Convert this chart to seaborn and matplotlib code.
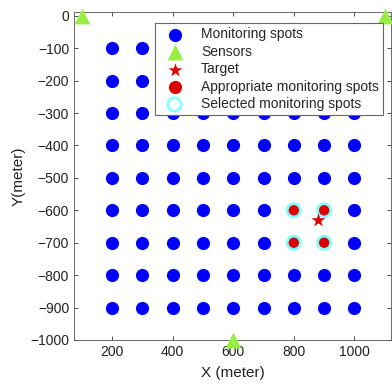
import numpy as np
import pandas as pd
import matplotlib
matplotlib.use("Agg")
import matplotlib.pyplot as plt
import seaborn as sns

# Candidate monitoring spots on a regular grid (meters)
grid_x = [200, 300, 400, 500, 600, 700, 800, 900, 1000]
grid_y = [-100, -200, -300, -400, -500, -600, -700, -800, -900]

# Sensor positions
sensor_x = [100, 1100, 600]
sensor_y = [0, 0, -1000]

# Target position
target_x = [880]
target_y = [-630]

# Spots close to the target that are suitable / selected
appropriate_x = [800, 900, 800, 900]
appropriate_y = [-600, -600, -700, -700]
selected_x = [800, 900, 800, 900]
selected_y = [-600, -600, -700, -700]

sns.set_style("ticks")
plt.rcParams["font.family"] = ["Liberation Sans", "DejaVu Sans"]
plt.rcParams["xtick.direction"] = "in"
plt.rcParams["ytick.direction"] = "in"

gx, gy = np.meshgrid(grid_x, grid_y)
spots = pd.DataFrame({"x": gx.ravel(), "y": gy.ravel()})
sensors = pd.DataFrame({"x": sensor_x, "y": sensor_y})
target = pd.DataFrame({"x": target_x, "y": target_y})
appropriate = pd.DataFrame({"x": appropriate_x, "y": appropriate_y})
selected = pd.DataFrame({"x": selected_x, "y": selected_y})

fig = plt.figure(figsize=(3.92, 3.85), dpi=100)
ax = fig.add_axes([0.189, 0.117, 0.808, 0.852])

sns.scatterplot(data=spots, x="x", y="y", ax=ax, color="#0000ff", s=90,
                marker="o", linewidth=0, label="Monitoring spots", zorder=3)
sns.scatterplot(data=sensors, x="x", y="y", ax=ax, color="#99ee44", s=130,
                marker="^", linewidth=0, label="Sensors", zorder=4, clip_on=False)
sns.scatterplot(data=target, x="x", y="y", ax=ax, color="#dd0000", s=110,
                marker="*", linewidth=0, label="Target", zorder=6)
sns.scatterplot(data=appropriate, x="x", y="y", ax=ax, color="#dd0000", s=90,
                marker="o", linewidth=0, label="Appropriate monitoring spots", zorder=5)
sns.scatterplot(data=selected, x="x", y="y", ax=ax, s=90, marker="o",
                facecolor="none", edgecolor="#80ffff", linewidth=2,
                label="Selected monitoring spots", zorder=5)

ax.set_xlim(75, 1120)
ax.set_ylim(-1000, 12)
ax.set_xticks([200, 400, 600, 800, 1000])
ax.set_yticks(list(range(-1000, 1, 100)))
ax.tick_params(top=True, right=True, labelsize=10, length=3, width=0.6,
               colors="#333333", labelcolor="#222222")
for sp in ax.spines.values():
    sp.set_visible(True)
    sp.set_color("#555555")
    sp.set_linewidth(0.6)

ax.set_xlabel("X (meter)", fontsize=11, color="#222222", labelpad=5)
ax.set_ylabel("Y(meter)", fontsize=11, color="#222222", labelpad=3)

leg = ax.legend(loc="upper right", bbox_to_anchor=(0.977, 0.940),
                bbox_transform=fig.transFigure, borderaxespad=0,
                fontsize=10, frameon=True, fancybox=False, framealpha=1,
                labelspacing=0.25, handletextpad=0.8, borderpad=0.3,
                handlelength=2.2)
leg.get_frame().set_edgecolor("#666666")
leg.get_frame().set_linewidth(0.8)
leg.set_zorder(10)

fig.savefig("out.png", dpi=100)
